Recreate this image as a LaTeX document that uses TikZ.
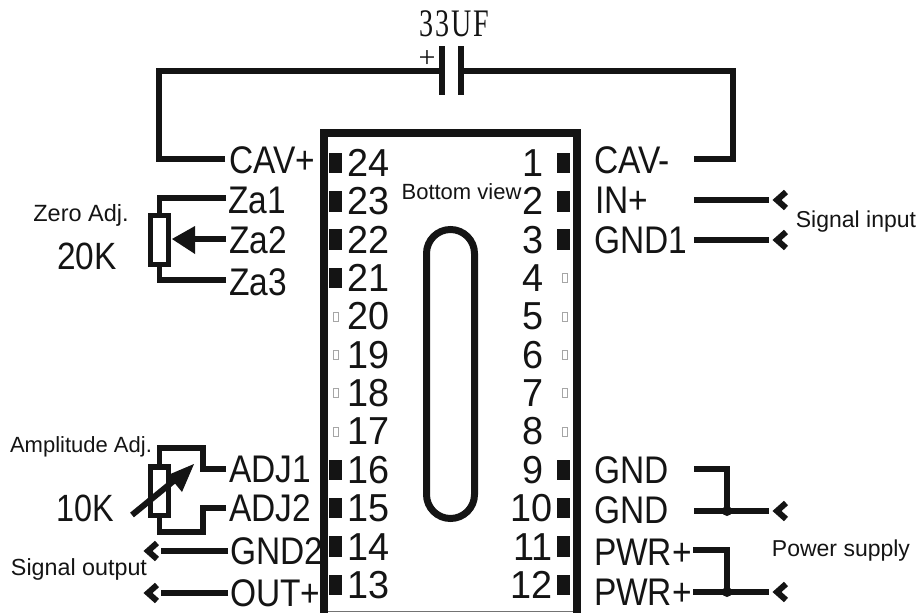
\documentclass[tikz,border=0pt]{standalone}
\usepackage{fontspec}
\setmainfont{Liberation Sans}
\newfontfamily\serifcap[LetterSpace=7]{Liberation Serif}
\newcommand{\fsz}[1]{\fontsize{#1}{#1}\selectfont}
\newcommand{\lab}[1]{\fsz{38.5}\scalebox{.87}[1]{#1}}
\newcommand{\numb}[1]{\fsz{39}\scalebox{.97}[1]{#1}}
\tikzset{
  wire/.style={line width=5.5pt,line cap=butt,line join=miter,black!92},
  chev/.style={line width=6pt,line join=miter,black!92},
  plate/.style={line width=6pt,black!92},
  pot/.style={draw=black!92,line width=5.5pt,fill=white},
  txt/.style={inner sep=0pt,outer sep=0pt,text=black!92},
  lbl/.style={txt,anchor=west},
  pinbox/.style={fill=black!92,minimum width=12.5pt,minimum height=20.5pt,inner sep=0pt},
  nopin/.style={draw=black!35,line width=.7pt,fill=white,minimum width=5pt,minimum height=9pt,inner sep=0pt},
  jdot/.style={circle,fill=black!92,minimum size=10pt,inner sep=0pt},
  chipline/.style={line width=8pt,line join=miter,black!92}
}
\begin{document}
\begin{tikzpicture}[x=1pt,y=-1pt]
\useasboundingbox (0,0) rectangle (919,613);
% chip body
\draw[draw=black!55,line width=1pt] (324,611) -- (577,611);
\draw[chipline] (324,613) -- (324,133) -- (577,133) -- (577,613);
\draw[line width=7pt,black!92,rounded corners=24pt] (426.5,229.5) rectangle (474.5,518.5);
\node[txt] (bv) at (461.5,192) {\fsz{22}Bottom view};
% pins
\foreach \i/\n in {0/24,1/23,2/22,3/21,8/16,9/15,10/14,11/13}
  \node[pinbox] (p\n) at (335.5,163+38.36*\i) {};
\foreach \i/\n in {4/20,5/19,6/18,7/17}
  \node[nopin] (p\n) at (335.5,163+38.36*\i) {};
\foreach \i/\n in {0/1,1/2,2/3,8/9,9/10,10/11,11/12}
  \node[pinbox] (p\n) at (563.5,163+38.36*\i) {};
\foreach \i/\n in {3/4,4/5,5/6,6/7,7/8}
  \node[nopin] (p\n) at (565,163+38.36*\i) {};
% pin numbers
\foreach \i/\n in {0/24,1/23,2/22,3/21,4/20,5/19,6/18,7/17,8/16,9/15,10/14,11/13}
  \node[lbl] (t\n) at (347,163+38.36*\i) {\numb{\n}};
\foreach \i/\n in {0/1,1/2,2/3,3/4,4/5,5/6,6/7,7/8,8/9}
  \node[txt,anchor=east] (t\n) at (544,163+38.36*\i) {\numb{\n}};
\foreach \i/\n in {9/10,10/11,11/12}
  \node[txt,anchor=east] (t\n) at (553,163+38.36*\i) {\numb{\n}};
% left labels
\node[lbl] (cavp) at (229,160) {\lab{CAV+}};
\node[lbl] (zaa) at (228,200) {\lab{Za1}};
\node[lbl] (zab) at (229,240) {\lab{Za2}};
\node[lbl] (zac) at (229,282) {\lab{Za3}};
\node[lbl] (adja) at (229,469) {\lab{ADJ1}};
\node[lbl] (adjb) at (229,508) {\lab{ADJ2}};
\node[lbl] (gndb) at (230,551) {\lab{GND2}};
\node[lbl] (outp) at (230,593) {\lab{OUT+}};
% right labels
\node[lbl] (cavm) at (594,160) {\lab{CAV-}};
\node[lbl] (inp) at (595,200) {\lab{IN+}};
\node[lbl] (gnda) at (594,240) {\lab{GND1}};
\node[lbl] (gndc) at (594,470) {\lab{GND}};
\node[lbl] (gndd) at (594,510) {\lab{GND}};
\node[lbl] (pwra) at (594,552) {\lab{PWR+}};
\node[lbl] (pwrb) at (594,592) {\lab{PWR+}};
% captions
\node[txt] (zero) at (81,215) {\fsz{23.5}Zero Adj.};
\node[txt] (zk) at (87,256) {\fsz{38}\scalebox{.88}[1]{20K}};
\node[txt] (amp) at (81,447) {\fsz{22}Amplitude Adj.};
\node[txt] (tk) at (85,508) {\fsz{38}\scalebox{.85}[1]{10K}};
\node[txt] (sout) at (79,569) {\fsz{23.3}Signal output};
\node[txt] (sin) at (856,222) {\fsz{23}Signal input};
\node[txt] (psup) at (841,551) {\fsz{23}Power supply};
% capacitor
\node[txt] (cv) at (454,24) {\serifcap\fsz{39}\scalebox{.72}[1]{33UF}};
\node[txt] (cp) at (427,59) {\serifcap\fsz{30}+};
\coordinate (capa) at (442,71);
\coordinate (capb) at (461,71);
\draw[plate] (442,46) -- (442,95);
\draw[plate] (461,46) -- (461,95);
\coordinate (ca) at (225,159);
\coordinate (cb) at (694,159);
\draw[wire] (ca) -- (159,159) -- (159,71) -- (capa);
\draw[wire] (cb) -- (733,159) -- (733,71) -- (capb);
% zero pot
\draw[pot] (150.5,215.5) rectangle (168.5,264.5);
\coordinate (zt) at (159.5,215.5);
\coordinate (zb) at (159.5,264.5);
\coordinate (za) at (226,198);
\coordinate (zc) at (226,280);
\coordinate (zm) at (226,239);
\draw[wire] (za) -- (159.5,198) -- (zt);
\draw[wire] (zc) -- (159.5,280) -- (zb);
\draw[wire] (zm) -- (190,239);
\fill[black!92] (172,239) -- (195,226) -- (195,254) -- cycle;
% amplitude pot
\draw[pot] (150.5,467) rectangle (168.5,515.5);
\coordinate (at) at (159.5,467);
\coordinate (ab) at (159.5,515.5);
\coordinate (aa) at (226,469);
\coordinate (ac) at (226,508);
\draw[wire] (aa) -- (203,469) -- (203,448) -- (159.5,448) -- (at);
\draw[wire] (ac) -- (203,508) -- (203,532) -- (159.5,532) -- (ab);
\coordinate (ara) at (132,515);
\coordinate (arb) at (176,479);
\draw[line width=6pt,black!92] (ara) -- (arb);
\fill[black!92] (194,464) -- (168,475) -- (182,492) -- cycle;
% output wires
\coordinate (oa) at (228,551);
\coordinate (ob) at (228,593);
\coordinate (oc) at (161,551);
\coordinate (od) at (161,593);
\draw[wire] (oa) -- (oc);
\draw[wire] (ob) -- (od);
\draw[chev] (157,543) -- (148,551) -- (157,559);
\draw[chev] (157,585) -- (148,593) -- (157,601);
% input wires
\coordinate (ia) at (694,200);
\coordinate (ib) at (694,240);
\draw[wire] (ia) -- (769,200);
\draw[wire] (ib) -- (769,240);
\draw[chev] (786,192) -- (777,200) -- (786,208);
\draw[chev] (786,232) -- (777,240) -- (786,248);
% power wires
\coordinate (ga) at (694,469);
\coordinate (gb) at (694,511);
\coordinate (pa) at (693,550);
\coordinate (pb) at (693,592);
\node[jdot] (jg) at (727,511) {};
\node[jdot] (jp) at (727,592) {};
\draw[wire] (ga) -- (727,469) -- (jg.center);
\draw[wire] (gb) -- (769,511);
\draw[wire] (pa) -- (727,550) -- (jp.center);
\draw[wire] (pb) -- (769,592);
\draw[chev] (786,503) -- (777,511) -- (786,519);
\draw[chev] (786,584) -- (777,592) -- (786,600);
\end{tikzpicture}
\end{document}
